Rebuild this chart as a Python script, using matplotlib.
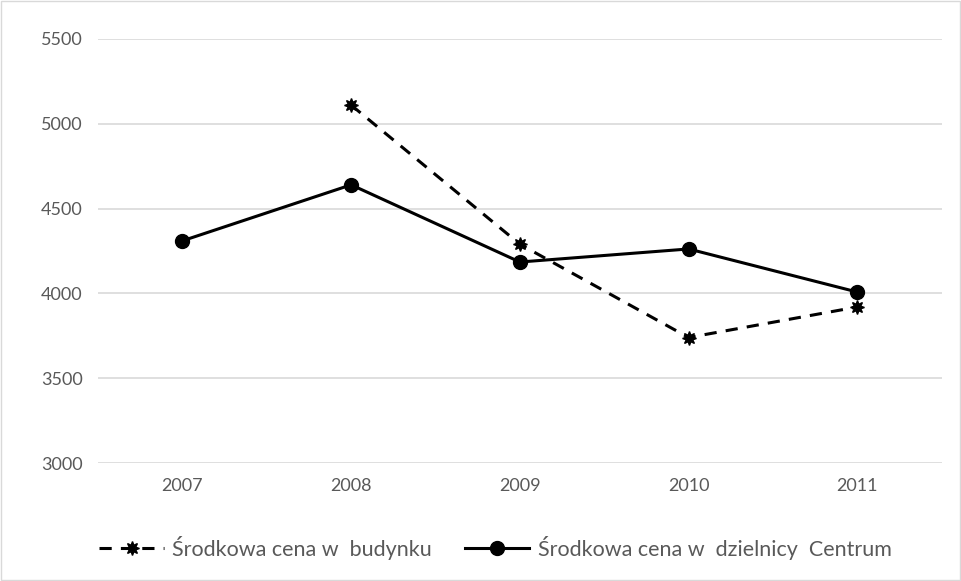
import matplotlib
matplotlib.use('Agg')
import matplotlib.pyplot as plt
from matplotlib.patches import Rectangle

# data
years = ['2007', '2008', '2009', '2010', '2011']
budynek = [None, 5110, 4290, 3740, 3920]
centrum = [4310, 4640, 4185, 4262, 4008]
yticks = [3000, 3500, 4000, 4500, 5000, 5500]

plt.rcParams['font.family'] = ['Lato', 'DejaVu Sans']

fig = plt.figure(figsize=(9.62, 5.81), dpi=100)
ax = fig.add_axes([0.1019, 0.203, 0.877, 0.730])

xs = list(range(len(years)))
bx = [x for x, v in zip(xs, budynek) if v is not None]
by = [v for v in budynek if v is not None]

ax.plot(bx, by, color='black', lw=2.2, ls=(0, (4, 3)), marker=(8, 1, 0),
        markersize=10, label='Środkowa cena w  budynku')
ax.plot(xs, centrum, color='black', lw=2.2, marker='o', markersize=10,
        label='Środkowa cena w  dzielnicy  Centrum')

ax.set_xlim(-0.5, len(years) - 0.5)
ax.set_ylim(3000, 5500)
ax.set_yticks(yticks)
ax.set_xticks(xs)
ax.set_xticklabels(years)
ax.yaxis.grid(True, color='#d9d9d9', lw=1.2)
ax.set_axisbelow(True)
for s in ax.spines.values():
    s.set_visible(False)
ax.tick_params(length=0, labelsize=13, colors='#595959', pad=11)

leg = fig.legend(loc='center', bbox_to_anchor=(0.515, 0.057), ncol=2, frameon=False,
                 fontsize=15.5, handlelength=3.0, columnspacing=1.5, handletextpad=0.4)
for t in leg.get_texts():
    t.set_color('#595959')

fig.patches.append(Rectangle((0.001, 0.001), 0.997, 0.997, transform=fig.transFigure,
                             fill=False, edgecolor='#d9d9d9', lw=1))

fig.savefig('out.png', dpi=100)
